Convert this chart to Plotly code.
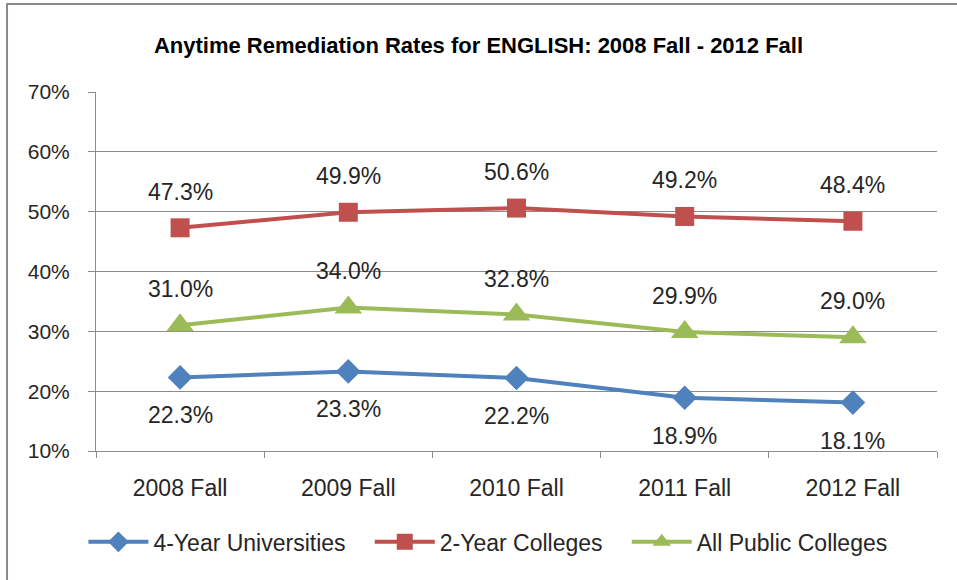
import plotly.graph_objects as go

terms = ["2008 Fall", "2009 Fall", "2010 Fall", "2011 Fall", "2012 Fall"]
univ_4yr = [22.3, 23.3, 22.2, 18.9, 18.1]
coll_2yr = [47.3, 49.9, 50.6, 49.2, 48.4]
all_public = [31.0, 34.0, 32.8, 29.9, 29.0]

FONT = "Liberation Sans, Arial, sans-serif"
GRID = "#8c8c8c"
PAD = "\u00a0" * 3  # extra room between legend entries

series = [
    ("4-Year Universities" + PAD, univ_4yr, "#4F81BD", "diamond", 19, -38),
    ("2-Year Colleges" + PAD, coll_2yr, "#C0504D", "square", 19, 36),
    ("All Public Colleges", all_public, "#9BBB59", "triangle-up", 24, 36),
]

fig = go.Figure()
annotations = []
for name, vals, color, sym, msize, shift in series:
    fig.add_trace(go.Scatter(
        x=terms, y=vals, name=name, mode="lines+markers",
        line=dict(color=color, width=4),
        marker=dict(symbol=sym, size=msize, color=color),
    ))
    for t, v in zip(terms, vals):
        annotations.append(dict(
            x=t, y=v, text=f"{v:.1f}%", showarrow=False, yshift=shift,
            font=dict(family=FONT, size=23, color="#262626"),
        ))

fig.update_layout(
    width=957, height=580,
    paper_bgcolor="white", plot_bgcolor="white",
    margin=dict(l=96, r=20, t=92, b=129),
    font=dict(family=FONT, color="#262626"),
    title=dict(
        text="<b>Anytime Remediation Rates for ENGLISH: 2008 Fall - 2012 Fall</b>",
        x=0.5, xanchor="center", y=0.922, yanchor="middle",
        font=dict(family=FONT, size=22, color="#000000"),
    ),
    annotations=annotations,
    showlegend=True,
    legend=dict(
        orientation="h", x=0.466, xanchor="center", y=-0.253, yanchor="middle",
        font=dict(family=FONT, size=23, color="#262626"),
        itemwidth=60, traceorder="normal",
    ),
    shapes=[dict(
        type="rect", xref="paper", yref="paper",
        x0=-0.1058, x1=1.2, y0=-0.45, y1=1.245,
        line=dict(color="#8a8a8a", width=2), layer="below",
    )],
)

fig.update_xaxes(
    type="category", range=[-0.5, 4.5],
    showline=True, linecolor=GRID, linewidth=1,
    ticks="outside", tickson="boundaries", ticklen=6, tickcolor=GRID,
    showgrid=False, ticklabelstandoff=16,
    tickfont=dict(family=FONT, size=23, color="#262626"),
)
fig.update_yaxes(
    range=[10, 70], dtick=10, ticksuffix="%",
    showline=True, linecolor=GRID, linewidth=1,
    ticks="outside", ticklen=7, tickcolor=GRID,
    showgrid=True, gridcolor=GRID, gridwidth=1, zeroline=False,
    ticklabelstandoff=14,
    tickfont=dict(family=FONT, size=21, color="#262626"),
)

# drop the default page margin so the figure fills the window exactly
fig.write_html("out.html", config={"displayModeBar": False},
               post_script="document.body.style.margin='0';")
